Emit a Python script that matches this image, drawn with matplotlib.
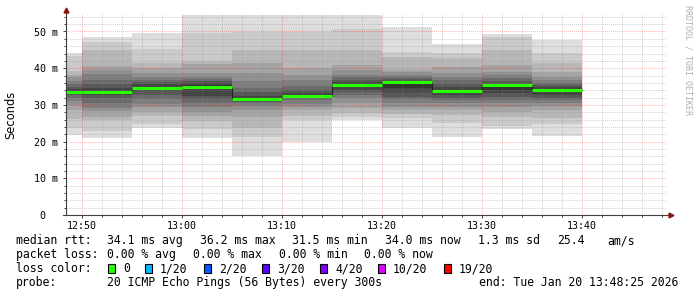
import matplotlib
matplotlib.use("Agg")
import matplotlib.pyplot as plt
from matplotlib.patches import Rectangle

# smokeping style latency graph, last hour
start_time = "12:48:25"
end_time = "13:48:25"
step_ends = ["12:50", "12:55", "13:00", "13:05", "13:10", "13:15",
             "13:20", "13:25", "13:30", "13:35", "13:40"]
medians = [33.6, 33.5, 34.7, 35.0, 31.5, 32.5, 35.4, 36.2, 33.7, 35.5, 34.0]

# sorted rtt of the 20 pings in every step (ms)
pings = [
    [21.8, 23.6, 26.1, 28.6, 30.0, 31.0, 32.0, 32.8, 33.3, 33.5, 33.7, 34.2, 35.0, 35.8, 36.5, 37.5, 38.1, 39.3, 43.2, 44.1],
    [21.1, 23.0, 25.8, 26.8, 28.3, 29.2, 30.5, 31.9, 32.8, 33.3, 33.7, 34.6, 35.8, 36.9, 38.5, 39.4, 40.6, 45.0, 47.1, 48.4],
    [23.6, 24.9, 27.0, 28.2, 29.5, 30.3, 31.5, 32.8, 33.8, 34.4, 34.9, 35.6, 36.3, 36.8, 37.5, 38.6, 40.0, 41.5, 45.3, 49.5],
    [20.9, 23.3, 25.6, 26.9, 28.2, 29.4, 30.5, 31.5, 32.3, 34.5, 35.4, 36.0, 36.4, 37.0, 37.5, 38.6, 41.1, 42.0, 49.6, 54.5],
    [16.1, 21.2, 23.6, 26.6, 28.6, 29.7, 30.5, 30.9, 31.2, 31.4, 31.6, 32.3, 33.4, 34.6, 36.4, 38.8, 41.3, 45.0, 49.9, 54.5],
    [20.0, 25.9, 27.0, 28.6, 29.5, 30.3, 31.3, 31.8, 32.2, 32.4, 32.6, 33.2, 34.1, 35.2, 36.8, 38.2, 40.0, 45.0, 49.9, 54.5],
    [25.9, 26.7, 27.8, 29.2, 30.5, 31.8, 32.7, 33.5, 34.1, 35.0, 35.6, 36.2, 36.8, 37.5, 38.1, 39.4, 40.8, 45.0, 50.8, 54.5],
    [23.8, 26.3, 27.5, 28.6, 29.5, 30.4, 31.5, 32.2, 33.5, 34.5, 36.0, 36.6, 37.0, 37.5, 38.1, 39.0, 39.5, 43.0, 44.5, 51.3],
    [21.3, 25.0, 27.2, 28.5, 29.5, 30.4, 31.2, 31.8, 32.7, 33.4, 34.1, 34.8, 35.7, 36.8, 37.7, 38.6, 40.4, 42.7, 44.1, 46.6],
    [23.4, 24.3, 26.8, 28.0, 29.5, 30.5, 31.4, 32.2, 33.2, 34.1, 34.8, 35.6, 36.6, 37.4, 38.2, 39.0, 40.9, 45.0, 48.6, 49.3],
    [21.4, 24.8, 26.5, 28.6, 29.7, 30.5, 31.3, 32.0, 32.7, 33.5, 34.3, 34.9, 35.5, 35.9, 36.7, 37.5, 39.0, 41.5, 44.1, 47.7],
]

x_ticks = ["12:50", "13:00", "13:10", "13:20", "13:30", "13:40"]
y_ticks = [0, 10, 20, 30, 40, 50]
y_ticklabels = ["0  ", "10 m", "20 m", "30 m", "40 m", "50 m"]

loss_labels = ["0", "1/20", "2/20", "3/20", "4/20", "10/20", "19/20"]
loss_colors = ["#26ff00", "#00b8ff", "#0059ff", "#5e00ff", "#7e00ff", "#dd00ff", "#ff0000"]


def to_min(s):
    parts = s.split(":")
    m = (int(parts[0]) - 12) * 60 + int(parts[1])
    if len(parts) > 2:
        m += int(parts[2]) / 60.0
    return m


W, H = 697, 297
fig = plt.figure(figsize=(W / 100, H / 100), dpi=100)
fig.patch.set_facecolor("white")
ax = fig.add_axes([66 / W, 82 / H, 600 / W, 201.85 / H])

edges = [to_min(start_time)] + [to_min(t) for t in step_ends]

# smoke: outer pairs light, inner pairs dark
half = 10
for k in range(half):
    ibot = k + 1
    c = int(190 / half * (half - ibot)) + 50
    col = "#%02x%02x%02x" % (c, c, c)
    lo = [p[k] for p in pings]
    hi = [p[19 - k] for p in pings]
    ax.fill_between(edges, lo + [lo[-1]], hi + [hi[-1]], step="post",
                    color=col, lw=0, zorder=1, antialiased=False)

ax.step(edges, medians + [medians[-1]], where="post", color="#202020", lw=0.8, zorder=3)
ax.hlines(medians, edges[:-1], edges[1:], color=loss_colors[0], lw=2.2, zorder=4)

ax.set_xlim(to_min(start_time), to_min(end_time))
ax.set_ylim(0, 55)
ax.set_xticks([to_min(t) for t in x_ticks])
ax.set_xticklabels(x_ticks)
ax.set_xticks([to_min("12:50") + 2 * i for i in range(30)], minor=True)
ax.set_yticks(y_ticks)
ax.set_yticklabels(y_ticklabels)
ax.set_yticks(list(range(0, 55, 2)), minor=True)

for lab in ax.get_xticklabels() + ax.get_yticklabels():
    lab.set_family("DejaVu Sans Mono")
    lab.set_fontsize(7.2)
ax.tick_params(which="major", direction="out", length=2, width=0.7, color="#404040", pad=4)
ax.tick_params(which="minor", direction="out", length=1.5, width=0.7, color="#404040")
ax.tick_params(axis="x", pad=2.5)

ax.set_axisbelow(False)
ax.grid(which="minor", color="#8f8f8f", alpha=0.4, lw=0.7, linestyle=(0, (1, 1)))
ax.grid(which="major", color="#ff0000", alpha=0.3, lw=0.7, linestyle=(0, (1, 1)))

for s in ax.spines.values():
    s.set_visible(False)

# axes with arrows
ax.plot([-0.005, 1.008], [0, 0], transform=ax.transAxes, clip_on=False,
        color="#404040", lw=0.8, zorder=5)
ax.plot([0, 0], [0, 1.01], transform=ax.transAxes, clip_on=False,
        color="#404040", lw=0.8, zorder=5)
ax.plot(1.009, 0, marker=">", ms=3.5, color="#8b1010", transform=ax.transAxes, clip_on=False, zorder=6)
ax.plot(0, 1.015, marker="^", ms=3.5, color="#8b1010", transform=ax.transAxes, clip_on=False, zorder=6)

fig.text(11 / W, 1 - 115 / H, "Seconds", rotation=90, ha="center", va="center",
         fontsize=8.3, family="DejaVu Sans")
fig.text(688 / W, 1 - 60 / H, "RRDTOOL / TOBI OETIKER", rotation=270, ha="center",
         va="center", family="DejaVu Sans Mono", fontsize=6, color="#b0b0b0")

mono = dict(family="DejaVu Sans Mono", fontsize=8.3, ha="left", va="center")


def put(x, y, s):
    fig.text(x / W, 1 - y / H, s, **mono)


row1 = [(16, "median rtt:"), (107, "34.1 ms avg"), (200, "36.2 ms max"), (292, "31.5 ms min"),
        (385, "34.0 ms now"), (478, "1.3 ms sd"), (557, "25.4"), (607, "am/s")]
row2 = [(16, "packet loss:"), (107, "0.00 % avg"), (193, "0.00 % max"), (279, "0.00 % min"),
        (364, "0.00 % now")]
row4 = [(16, "probe:"), (107, "20 ICMP Echo Pings (56 Bytes) every 300s"),
        (479, "end: Tue Jan 20 13:48:25 2026")]
for x, s in row1:
    put(x, 240.5, s)
for x, s in row2:
    put(x, 254.5, s)
put(16, 268.5, "loss color:")
box_x = [108, 145, 204, 262, 320, 378, 444]
for bx, lab, c in zip(box_x, loss_labels, loss_colors):
    fig.add_artist(Rectangle((bx / W, 1 - 273 / H), 7 / W, 9 / H, transform=fig.transFigure,
                             facecolor=c, edgecolor="black", lw=0.8))
    put(bx + 15, 268.5, lab)
for x, s in row4:
    put(x, 282.5, s)

fig.savefig("out.png", dpi=100)
